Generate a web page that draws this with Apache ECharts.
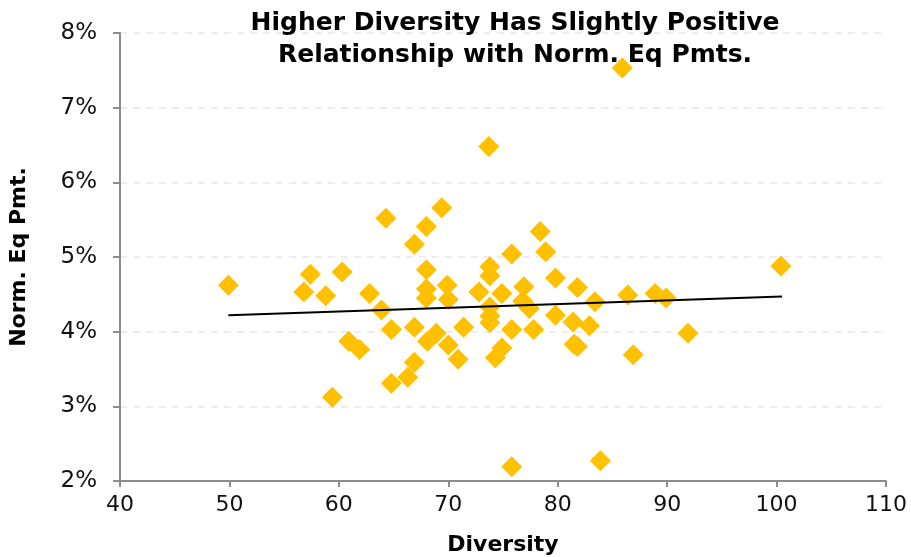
<!DOCTYPE html>
<html>
<head>
<meta charset="utf-8">
<script src="https://cdn.jsdelivr.net/npm/echarts@6/dist/echarts.min.js"></script>
<style>html,body{margin:0;padding:0;background:#fff}#c{width:911px;height:557px}</style>
</head>
<body>
<div id="c"></div>
<script>
var diversity = [49.9,56.8,57.4,58.8,59.4,60.3,60.9,61.9,62.8,63.9,64.3,64.8,64.8,66.3,66.9,66.9,66.9,68.0,68.0,68.0,68.0,68.1,68.9,69.4,69.9,70.0,70.0,70.9,71.4,72.8,73.7,73.8,73.8,73.8,73.8,73.8,74.3,74.9,74.9,75.8,75.8,75.8,76.9,76.8,77.4,77.8,78.4,78.9,79.8,79.8,81.4,81.5,81.8,81.8,82.9,83.4,83.9,85.9,86.4,86.9,88.9,89.9,91.9,100.4];
var normEqPmt = [4.62,4.53,4.77,4.48,3.12,4.80,3.87,3.76,4.51,4.29,5.52,4.03,3.31,3.39,3.59,5.17,4.06,5.41,4.83,4.57,4.45,3.87,3.98,5.66,4.62,4.43,3.82,3.63,4.06,4.53,6.48,4.87,4.75,4.33,4.21,4.12,3.65,3.78,4.51,5.04,4.03,2.19,4.60,4.41,4.31,4.03,5.34,5.07,4.72,4.22,4.13,3.83,3.80,4.59,4.08,4.40,2.27,7.53,4.49,3.69,4.51,4.45,3.98,4.88];
var trendX = [49.9, 100.5];
var trendY = [4.22, 4.47];
var titleLines = ['Higher Diversity Has Slightly Positive', 'Relationship with Norm. Eq Pmts.'];
var xAxisName = 'Diversity';
var yAxisName = 'Norm. Eq Pmt.';

var points = diversity.map(function(x, i){ return [x, normEqPmt[i]]; });
var trend = trendX.map(function(x, i){ return [x, trendY[i]]; });

var chart = echarts.init(document.getElementById('c'), null, {renderer:'canvas'});
var labelFont = 'DejaVu Sans, Verdana, sans-serif';
chart.setOption({
  animation: false,
  backgroundColor: '#ffffff',
  title: {
    text: titleLines.join('\n'),
    left: 510, top: 2, textAlign: 'center',
    textStyle: {fontFamily: labelFont, fontWeight: 'bold', fontSize: 25, color: '#000', lineHeight: 32}
  },
  grid: {left: 120, right: 25, top: 33, bottom: 76, outerBoundsMode: 'none', containLabel: false},
  xAxis: {
    type: 'value', min: 40, max: 110, interval: 10,
    name: xAxisName, nameLocation: 'middle', nameGap: 53,
    nameTextStyle: {fontFamily: labelFont, fontWeight: 'bold', fontSize: 22, color: '#000'},
    axisLine: {show: true, lineStyle: {color: '#8c8c8c', width: 2}},
    axisTick: {show: true, inside: false, length: 6, lineStyle: {color: '#8c8c8c', width: 2}},
    axisLabel: {fontFamily: labelFont, fontSize: 22, color: '#111', margin: 13},
    splitLine: {show: false}
  },
  yAxis: {
    type: 'value', min: 2, max: 8, interval: 1,
    name: yAxisName, nameLocation: 'middle', nameGap: 90, nameRotate: 90,
    nameTextStyle: {fontFamily: labelFont, fontWeight: 'bold', fontSize: 22, color: '#000'},
    axisLine: {show: true, lineStyle: {color: '#8c8c8c', width: 2}},
    axisTick: {show: true, inside: false, length: 7, lineStyle: {color: '#8c8c8c', width: 2}},
    axisLabel: {fontFamily: labelFont, fontSize: 23, color: '#111', margin: 23, formatter: '{value}%'},
    splitLine: {show: true, lineStyle: {color: '#ededed', type: [7, 6], width: 2}}
  },
  series: [
    {
      type: 'scatter', data: points, symbol: 'diamond', symbolSize: [21, 21],
      itemStyle: {color: '#FFC000', opacity: 1}, z: 2
    },
    {
      type: 'line', data: trend, symbol: 'none', showSymbol: false,
      lineStyle: {color: '#000', width: 2}, z: 3, silent: true
    }
  ]
});
</script>
</body>
</html>
